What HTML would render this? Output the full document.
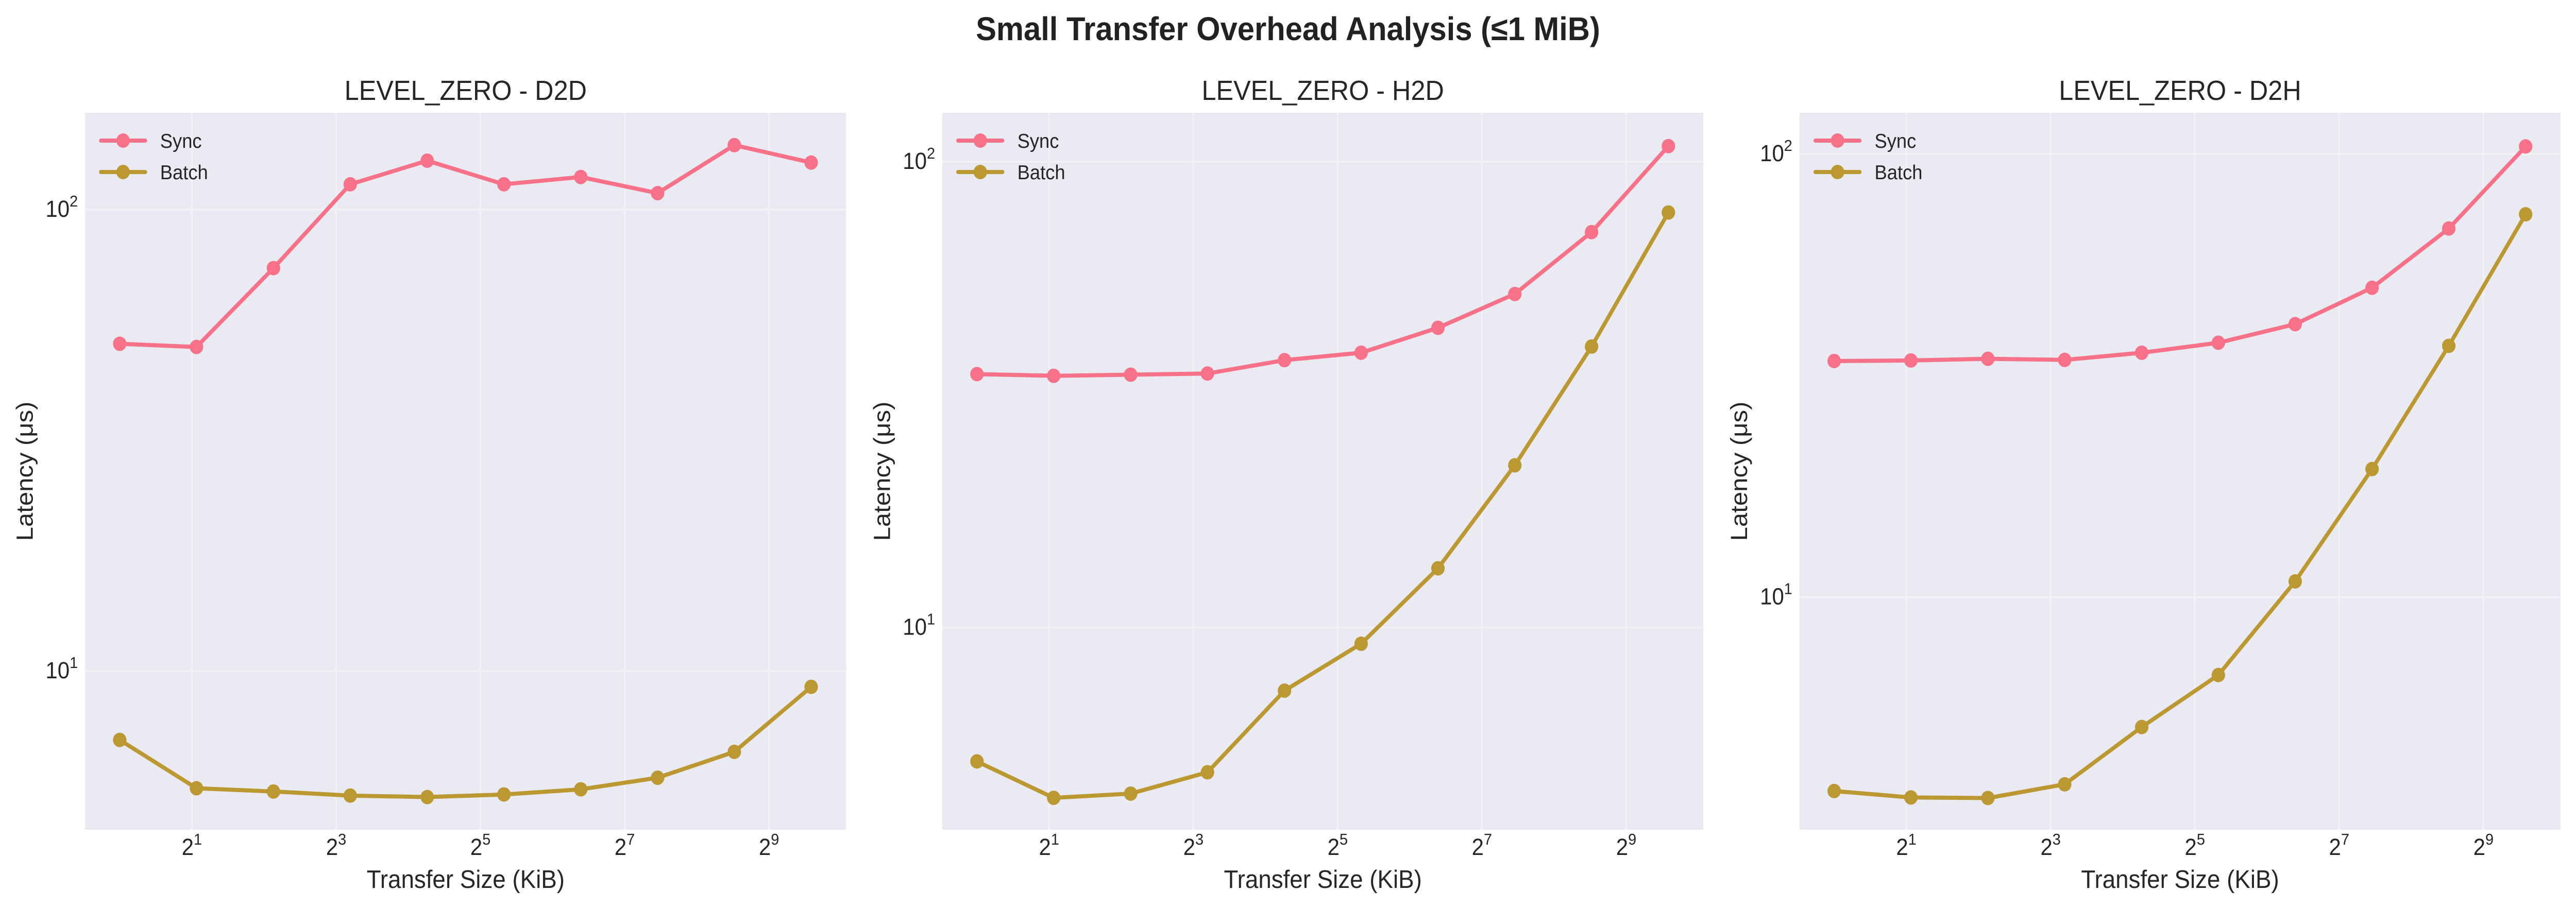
<!DOCTYPE html>
<html><head><meta charset="utf-8"><style>
html,body{margin:0;padding:0;background:#fff;overflow:hidden;width:100%;height:100%;}
svg{display:block;font-family:"Liberation Sans",sans-serif;width:100vw;height:100vh;}
</style></head><body>
<svg id="fig" viewBox="0 0 5358 1763" preserveAspectRatio="none" xmlns="http://www.w3.org/2000/svg">
<text x="2679" y="78" text-anchor="middle" font-size="64" font-weight="bold" fill="#222">Small Transfer Overhead Analysis (≤1 MiB)</text>
</svg>
<script>
const sizesKiB = [1, 2.09, 4.38, 9.16, 19.2, 40.1, 83.9, 175.6, 367, 768];
const d2dSync  = [51.2, 50.4, 74.7, 113.5, 127.7, 113.5, 117.7, 108.6, 138, 126.5];
const d2dBatch = [7.09, 5.57, 5.48, 5.37, 5.33, 5.40, 5.54, 5.87, 6.68, 9.24];
const h2dSync  = [35.0, 34.7, 34.9, 35.1, 37.5, 38.9, 44.0, 52.0, 70.6, 108];
const h2dBatch = [5.16, 4.31, 4.40, 4.89, 7.32, 9.23, 13.4, 22.3, 40.1, 77.8];
const d2hSync  = [34.1, 34.2, 34.5, 34.3, 35.6, 37.5, 41.3, 49.9, 67.9, 104];
const d2hBatch = [3.65, 3.53, 3.52, 3.78, 5.09, 6.67, 10.85, 19.45, 36.9, 73.1];
const panelTitles = ["LEVEL_ZERO - D2D", "LEVEL_ZERO - H2D", "LEVEL_ZERO - D2H"];
const xTickExps = [1, 3, 5, 7, 9];
const yTickExps = [1, 2];
const seriesNames = ["Sync", "Batch"];

const NS = "http://www.w3.org/2000/svg";
const svg = document.getElementById("fig");
function el(tag, attrs, parent) {
  const e = document.createElementNS(NS, tag);
  for (const k in attrs) e.setAttribute(k, attrs[k]);
  (parent || svg).appendChild(e);
  return e;
}
const colors = ["#f77189", "#bb9832"];
const panels = [
  {left:177, ymin:0.656, ymax:2.21, sync:d2dSync, batch:d2dBatch},
  {left:1960, ymin:0.566, ymax:2.105, sync:h2dSync, batch:h2dBatch},
  {left:3743, ymin:0.475, ymax:2.093, sync:d2hSync, batch:d2hBatch}
];
const W = 1583, TOP = 219, BOT = 1611, XMIN = -0.48, XMAX = 10.07;

panels.forEach((p, pi) => {
  const g = el("g", {});
  
  
  const xs = v => p.left + (Math.log2(v) - XMIN) / (XMAX - XMIN) * W;
  const xe = e => p.left + (e - XMIN) / (XMAX - XMIN) * W;
  const ye = e => BOT - (e - p.ymin) / (p.ymax - p.ymin) * (BOT - TOP);
  const ys = v => ye(Math.log10(v));

  const bg = el("rect", {x:p.left, y:TOP, width:W, height:BOT-TOP, fill:"#eaeaf2"}, g);
  
  

  xTickExps.forEach(e => {
    const x = xe(e);
    const gl = el("line", {x1:x, x2:x, y1:TOP, y2:BOT, stroke:"#f3f3f7", "stroke-width":3}, g);
    
    
    const t = el("text", {x:x, y:1660, "text-anchor":"middle", "font-size":45, fill:"#262626"}, g);
    
    
    t.textContent = "2";
    const s = el("tspan", {dy:-20, "font-size":31}, t);
    s.textContent = String(e);
  });
  yTickExps.forEach(e => {
    const y = ye(e);
    const gl = el("line", {x1:p.left, x2:p.left+W, y1:y, y2:y, stroke:"#f3f3f7", "stroke-width":3}, g);
    
    
    const t = el("text", {x:p.left-15, y:y+14, "text-anchor":"end", "font-size":45, fill:"#262626"}, g);
    
    
    t.textContent = "10";
    const s = el("tspan", {dy:-20, "font-size":31}, t);
    s.textContent = String(e);
  });

  [p.sync, p.batch].forEach((vals, si) => {
    const pts = vals.map((v, i) => xs(sizesKiB[i]).toFixed(1) + "," + ys(v).toFixed(1)).join(" ");
    const line = el("polyline", {points:pts, fill:"none", stroke:colors[si], "stroke-width":8, "stroke-linejoin":"round", "stroke-linecap":"round"}, g);
    
    
    vals.forEach((v, i) => {
      const c = el("circle", {cx:xs(sizesKiB[i]), cy:ys(v), r:14, fill:colors[si]}, g);
      
      
    });
  });

  seriesNames.forEach((n, si) => {
    const ly = 273 + si * 61;
    const lg = el("g", {}, g);
    
    
    el("line", {x1:p.left+33, x2:p.left+125, y1:ly, y2:ly, stroke:colors[si], "stroke-width":8, "stroke-linecap":"round"}, lg);
    el("circle", {cx:p.left+79, cy:ly, r:14, fill:colors[si]}, lg);
    const t = el("text", {x:p.left+156, y:ly+14, "font-size":39, fill:"#262626"}, lg);
    t.textContent = n;
  });

  const title = el("text", {x:p.left+W/2, y:194, "text-anchor":"middle", "font-size":54, fill:"#262626"}, g);
  
  
  title.textContent = panelTitles[pi];

  const xl = el("text", {x:p.left+W/2, y:1724, "text-anchor":"middle", "font-size":49, fill:"#262626"}, g);
  
  
  xl.textContent = "Transfer Size (KiB)";

  const yl = el("text", {x:0, y:0, "text-anchor":"middle", "font-size":49, fill:"#262626", transform:"translate(" + (p.left-109) + "," + ((TOP+BOT)/2) + ") rotate(-90)"}, g);
  
  
  yl.textContent = "Latency (μs)";
});
</script>
</body></html>
